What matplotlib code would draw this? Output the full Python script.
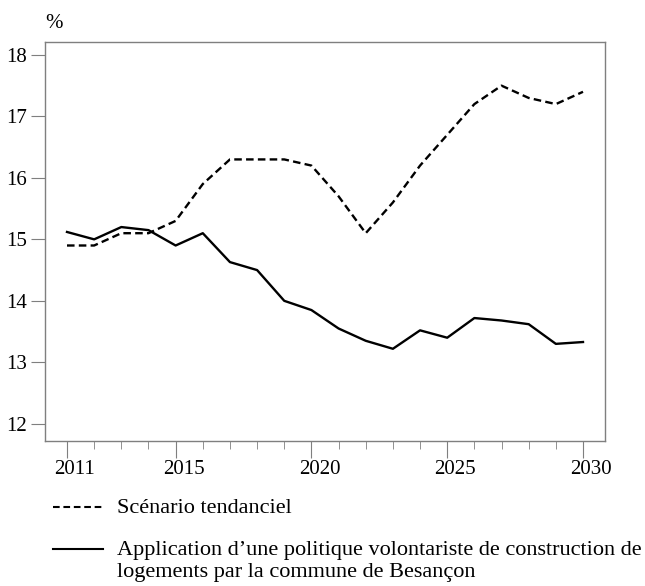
import matplotlib
matplotlib.use('Agg')
import matplotlib.pyplot as plt
from matplotlib.lines import Line2D
from matplotlib.ticker import MultipleLocator
from matplotlib.transforms import ScaledTranslation

plt.rcParams['font.family'] = ['Liberation Serif', 'DejaVu Serif']

years = list(range(2011, 2031))
tendanciel = [14.9, 14.9, 15.1, 15.1, 15.3, 15.9, 16.3, 16.3, 16.3, 16.2,
              15.7, 15.1, 15.6, 16.2, 16.7, 17.2, 17.5, 17.3, 17.2, 17.4]
volontariste = [15.12, 15.0, 15.2, 15.15, 14.9, 15.1, 14.63, 14.5, 14.0, 13.85,
                13.55, 13.35, 13.22, 13.52, 13.4, 13.72, 13.68, 13.62, 13.3, 13.33]
labels = ['Scénario tendanciel',
          'Application d\u2019une politique volontariste de construction de\n'
          'logements par la commune de Besançon']
xticks = [2011, 2015, 2020, 2025, 2030]

W, H = 645, 586
fig = plt.figure(figsize=(W / 100, H / 100), dpi=100)
ax = fig.add_axes([45 / W, 1 - 441 / H, 560 / W, 399 / H])

dash = (0, (3.2, 1.8))
ax.plot(years, tendanciel, color='black', linestyle=dash, linewidth=1.7)
ax.plot(years, volontariste, color='black', linewidth=1.7)

ax.set_xlim(2010.19, 2030.81)
ax.set_ylim(11.72, 18.21)
ax.set_xticks(xticks)
ax.xaxis.set_minor_locator(MultipleLocator(1))
ax.set_yticks(range(12, 19))

for s in ax.spines.values():
    s.set_color('#7f7f7f')
    s.set_linewidth(1.0)
ax.tick_params(axis='both', which='both', direction='out', color='#7f7f7f', labelsize=15)
ax.tick_params(axis='x', which='major', length=12, pad=2)
ax.tick_params(axis='x', which='minor', length=6)
ax.tick_params(axis='y', which='major', length=10, pad=3)
# year labels sit a little to the right of their ticks in the original
for lab in ax.get_xticklabels():
    lab.set_transform(lab.get_transform() + ScaledTranslation(8 / 100, 0, fig.dpi_scale_trans))

fig.text(45 / W, 1 - 24 / H, '%', fontsize=15, ha='left', va='center')

# legend below the plot
def px(x, y):
    return x / W, 1 - y / H

styles = [dash, '-']
rows = [507, 549]
for lbl, ls, y in zip(labels, styles, rows):
    (x0, yy), (x1, _) = px(53, y), px(103, y)
    fig.add_artist(Line2D([x0, x1], [yy, yy], color='black', linestyle=ls,
                          linewidth=1.5, transform=fig.transFigure))
    for i, line in enumerate(lbl.split('\n')):
        tx, ty = px(117, y + 6 + 22 * i)
        fig.text(tx, ty, line, fontsize=16, ha='left', va='baseline')

fig.savefig('out.png', dpi=100)
